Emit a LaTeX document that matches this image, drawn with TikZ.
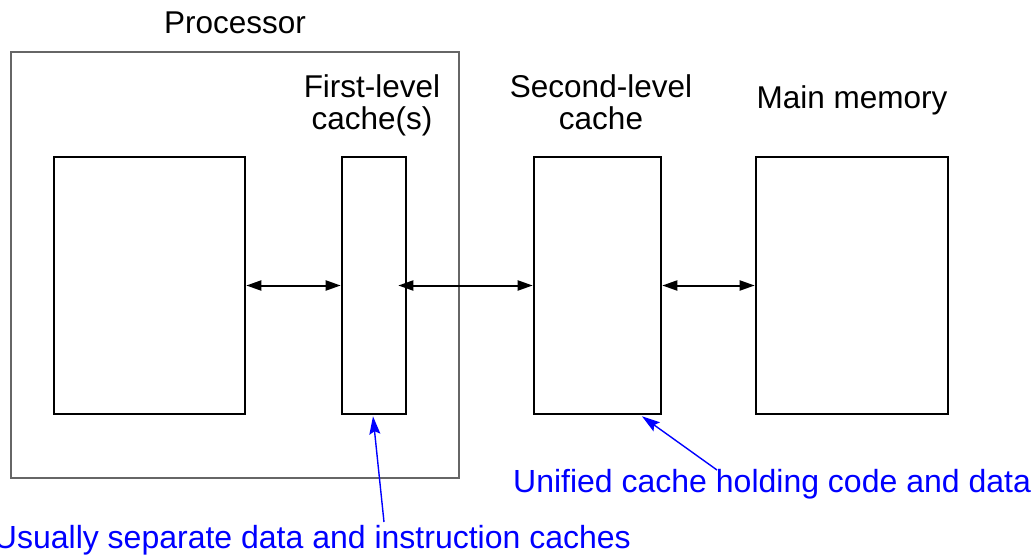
\documentclass[tikz,border=0pt]{standalone}
\usepackage{fontspec}
\setmainfont{Liberation Sans}
\usetikzlibrary{arrows.meta}
\begin{document}
\begin{tikzpicture}[x=1pt,y=-1pt,
  box/.style={draw=black,line width=2.6pt,inner sep=0pt},
  outerbox/.style={draw=black!60,line width=1.3pt,inner sep=0pt},
  lbl/.style={font=\fontsize{31.5}{32}\selectfont,align=center,inner sep=0pt},
  note/.style={font=\fontsize{32}{34}\selectfont,text=blue,inner sep=0pt,anchor=base west},
  link/.style={line width=2pt,{Triangle[length=15pt,width=10pt]}-{Triangle[length=15pt,width=10pt]}},
  pointer/.style={draw=blue,line width=1.4pt,-{Stealth[length=18pt,width=11pt,inset=3pt]}}]
\useasboundingbox (0,0) rectangle (1036,555);
\node[outerbox,minimum width=448pt,minimum height=426pt] (proc) at (235,265) {};
\node[box,minimum width=191pt,minimum height=257pt] (cpu) at (149.5,285.5) {};
\node[box,minimum width=64pt,minimum height=257pt] (l1) at (374,285.5) {};
\node[box,minimum width=127pt,minimum height=257pt] (l2) at (597.5,285.5) {};
\node[box,minimum width=192pt,minimum height=257pt] (mm) at (852,285.5) {};
\node[lbl,anchor=base] (tproc) at (235,33) {Processor};
\node[lbl,anchor=base] (tl1) at (372,129) {First-level\\cache(s)};
\node[lbl,anchor=base] (tl2) at (601,129) {Second-level\\cache};
\node[lbl,anchor=base] (tmm) at (852,108) {Main memory};
\node[note] (nuni) at (513,492) {Unified cache holding code and data};
\node[note,anchor=base east] (nsep) at (631,548) {Usually separate data and instruction caches};
\coordinate (l1in) at ([xshift=-9pt]l1.east);
\draw[link] (cpu.east) -- (l1.west);
\draw[link] (l1in) -- (l2.west);
\draw[link] (l2.east) -- (mm.west);
\coordinate (p1tail) at (384,522);
\coordinate (p2tail) at (717,470);
\draw[pointer] (p1tail) -- ([xshift=-1pt,yshift=-1pt]l1.south);
\draw[pointer] (p2tail) -- ([xshift=44.5pt,yshift=-1pt]l2.south);
\end{tikzpicture}
\end{document}
